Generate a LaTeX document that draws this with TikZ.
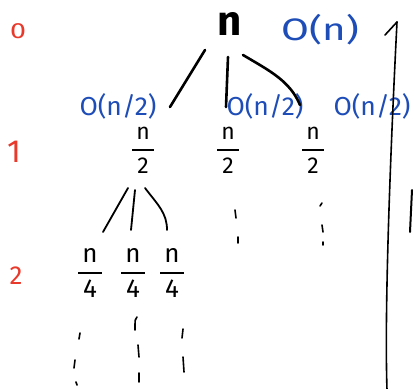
\documentclass[tikz,border=0pt]{standalone}
\usepackage{amsmath}
\usepackage{fontspec}
\setmainfont{Fira Sans}
\usetikzlibrary{calc}
\definecolor{penred}{HTML}{E8392B}
\definecolor{penblue}{HTML}{1E4DB7}
\newcommand{\hfr}[2]{$\genfrac{}{}{1.8pt}{0}{\text{\,#1\,}}{\text{#2}}$}
\tikzset{
  edge/.style={line width=2.6pt, line cap=round, black},
  thin edge/.style={line width=1.8pt, line cap=round, black},
  dotmark/.style={line width=1.6pt, line cap=round, black},
  level/.style={text=penred, inner sep=0pt},
  cost/.style={text=penblue, font=\fontsize{26}{26}\selectfont, inner sep=0pt, xscale=1.02},
  frac1/.style={font=\fontsize{23}{23}\selectfont, inner sep=0pt},
  frac2/.style={font=\fontsize{26}{26}\selectfont, inner sep=0pt},
}
\begin{document}
\begin{tikzpicture}[x=1pt,y=-1pt]
\useasboundingbox (0,0) rectangle (414,388);
% level labels
\node[level, font=\fontsize{22}{22}\selectfont, xscale=1.3] (l0) at (18,31) {0};
\node[level, font=\fontsize{32}{32}\selectfont] (l1) at (14,152) {1};
\node[level, font=\fontsize{26}{26}\selectfont] (l2) at (16,276) {2};
% root
\node[inner sep=0pt, font=\fontsize{42}{42}\selectfont\bfseries] (root) at (230,24) {n};
\node[text=penblue, inner sep=0pt, font=\fontsize{31}{31}\selectfont, xscale=1.3] (c0) at (320,30) {O(n)};
% cost labels
\node[cost] (c1) at (118,106) {O(n/2)};
\node[cost] (c2) at (265,106) {O(n/2)};
\node[cost] (c3) at (372,106) {O(n/2)};
% level 1
\node[frac1] (a1) at (143,150) {\hfr{n}{2}};
\node[frac1] (a2) at (228,150) {\hfr{n}{2}};
\node[frac1] (a3) at (313,150) {\hfr{n}{2}};
% level 2
\node[frac2] (b1) at (90,273) {\hfr{n}{4}};
\node[frac2] (b2) at (133,273) {\hfr{n}{4}};
\node[frac2] (b3) at (172,273) {\hfr{n}{4}};
% root edges
\draw[edge] ($(root)+(-25,26)$) -- ($(a1)+(27,-43)$);
\draw[edge] ($(root)+(-2,33)$) -- ($(a2)+(-2,-43)$);
\draw[edge] ($(root)+(13,31)$) .. controls ($(root)+(40,47)$) and ($(root)+(60,57)$) .. ($(a3)+(-13,-45)$);
% level 1 edges
\draw[thin edge] ($(a1)+(-15,38)$) -- ($(b1)+(13,-41)$);
\draw[thin edge] ($(a1)+(-8,40)$) -- ($(b2)+(-2,-43)$);
\draw[thin edge] ($(a1)+(2,38)$) .. controls ($(a1)+(15,55)$) and ($(b3)+(-5,-60)$) .. ($(b3)+(-5,-43)$);
% dots below level 1
\draw[dotmark] (235,210) -- (236,218);
\draw[dotmark] (238,237) -- (238,243);
\draw[dotmark] (322,203) -- (320,206);
\draw[dotmark] (322,225) -- (323,232);
\draw[dotmark] (323,242) -- (323,245);
% dots below level 2
\draw[dotmark] (80,333) -- (79,339);
\draw[dotmark] (75,360) -- (74,368);
\draw[dotmark] (76,382) -- (77,385);
\draw[dotmark] (137,317) .. controls (135,319) .. (135,330);
\draw[dotmark] (138,345) -- (139,357);
\draw[dotmark] (139,373) -- (139,382);
\draw[dotmark] (183,329) -- (182,338);
\draw[dotmark] (183,357) -- (184,372);
% vertical arrow
\coordinate (arB) at (387,390);
\coordinate (arT) at (397,22);
\coordinate (arW) at (385,35);
\draw[line width=1.6pt, line cap=round] (arB) .. controls (384,300) and (392,120) .. (arT);
\draw[line width=1.6pt, line cap=round, line join=round] (arW) -- (arT);
\coordinate (m1) at (412,190);
\coordinate (m2) at (410,232);
\draw[line width=2pt, line cap=round] (m1) -- (m2);
\end{tikzpicture}
\end{document}
